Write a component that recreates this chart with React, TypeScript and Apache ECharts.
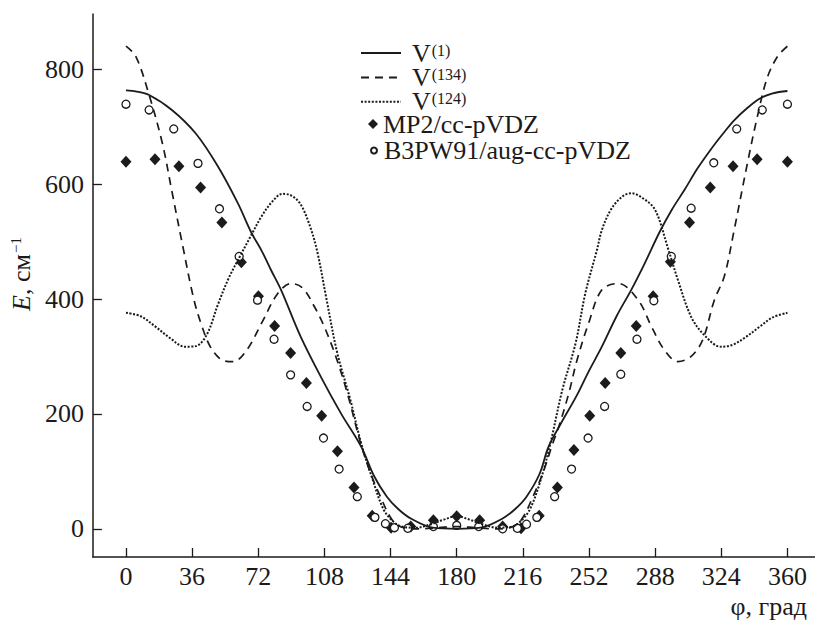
import React, { useEffect, useRef } from "react";
import * as echarts from "echarts";

const FONT = "Liberation Serif, Times New Roman, serif";
const INK = "#1c1a1a";

const xTicks = [0, 36, 72, 108, 144, 180, 216, 252, 288, 324, 360];
const yTicks = [0, 200, 400, 600, 800];

// V(1) – solid curve
const v1X = [0, 6, 12.6, 25, 38, 50, 61, 68, 74, 79, 84.5, 95, 106, 117, 128, 135, 142, 148, 155, 167, 180, 193, 205, 212, 218, 225, 230, 237, 245, 252, 259, 267, 275, 282, 290.5, 297, 304, 311, 318, 325, 331, 338, 345, 352, 360];
const v1Y = [763, 761, 755, 729, 688, 631, 566, 517, 483, 450, 415, 335, 265, 201, 143, 92, 56, 35, 18, 2, 0, 2, 18, 35, 56, 95, 143, 185, 230, 275, 317, 370, 416, 460, 517, 555, 590, 627, 659, 688, 711, 732, 749, 758, 762];

// V(134) – dashed curve
const v134X = [0, 5.4, 12.6, 19.8, 25.2, 30.6, 36.9, 41.4, 45.9, 52.2, 58.4, 65.7, 73.8, 82.7, 90, 96.2, 102.5, 107.9, 114.2, 120.5, 127.7, 133, 138.5, 144.8, 151, 160, 170, 180, 190, 200, 209, 215.2, 221.5, 227, 232.3, 235.6, 241, 245.5, 251.8, 259, 268, 278.8, 286, 293.1, 300.4, 307.6, 313.9, 320.2, 325.6, 331, 338.2, 343.6, 349, 354.6, 360];
const v134Y = [840, 822, 755, 671, 584, 497, 400, 352, 317, 294, 291, 311, 358, 410, 427, 419, 387, 352, 300, 236, 149, 98, 56, 16, 2, 0, 2, 4, 2, 0, 2, 16, 56, 98, 149, 178, 236, 294, 358, 416, 427, 398, 352, 311, 291, 300, 329, 398, 439, 520, 636, 717, 785, 822, 840];

// V(124) – dotted curve
const v124X = [0, 8, 16, 24, 32, 38, 44, 50, 56, 62, 68, 74, 80, 85, 90, 95, 100, 104, 109, 115, 122, 128, 134, 140, 145, 150, 158, 166, 173, 180, 187, 194, 202, 210, 215, 220, 226, 231, 237.5, 244.7, 250, 256.3, 259, 264, 270, 275, 281, 288, 295, 300.4, 307.6, 314.8, 323.8, 330, 337, 345, 352, 360];
const v124Y = [376, 370, 352, 332, 317, 318, 338, 390, 437, 474, 510, 545, 571, 583, 580, 565, 528, 484, 402, 306, 226, 149, 88, 35, 14, 4, 2, 8, 16, 22, 16, 8, 2, 4, 14, 35, 88, 149, 242, 323, 410, 485, 520, 556, 578, 584, 576, 555, 488, 433, 369, 337, 317, 320, 333, 352, 368, 376];

// MP2/cc-pVDZ – filled diamonds
const mp2X = [0, 15.8, 28.8, 40.6, 52.2, 62.8, 72.1, 80.9, 89.6, 98.2, 106.5, 115.1, 124.1, 134, 144.3, 155, 167.3, 180, 192.5, 205, 215, 224.9, 234.8, 243.8, 252.4, 260.8, 269.3, 277.7, 286.9, 296.3, 306.7, 318, 330.4, 343.5, 360];
const mp2Y = [639, 643, 631, 594, 533, 464, 405, 353, 306, 254, 197, 135, 72, 23, 2, 4, 15, 22, 15, 4, 1, 23, 72, 137, 197, 254, 306, 353, 405, 465, 533, 594, 631, 643, 639];

// B3PW91/aug-cc-pVDZ – open circles
const b3X = [0, 12.6, 26, 39.2, 50.9, 61.6, 71.6, 80.6, 89.6, 98.6, 107.5, 116, 125.9, 135.5, 141.2, 146.1, 153.4, 167.3, 180, 192, 205, 213, 218, 223.6, 233.3, 242.5, 251.5, 260.5, 269.3, 278.1, 287.3, 296.8, 307.6, 319.9, 332.4, 346.3, 360];
const b3Y = [739, 729, 696, 636, 557, 474, 398, 330, 268, 213, 158, 104, 56, 20, 9, 2, 1, 4, 6, 4, 0, 1, 8, 20, 56, 104, 158, 213, 269, 330, 397, 474, 558, 637, 696, 729, 739];

const zip = (xs: number[], ys: number[]) => xs.map((x, i) => [x, ys[i]]);

export default function App() {
  const ref = useRef<HTMLDivElement>(null);
  useEffect(() => {
    if (!ref.current) return;
    const chart = echarts.init(ref.current, null, { renderer: "svg" });
    const axisCommon = {
      type: "value" as const,
      splitLine: { show: false },
      axisLine: { show: true, onZero: false, lineStyle: { color: INK, width: 1.5 } },
    };
    const lineBase = (name: string, xs: number[], ys: number[], ls: any) => ({
      type: "line",
      name,
      data: zip(xs, ys),
      symbol: "none",
      showSymbol: false,
      smooth: 0.35,
      z: 4,
      silent: true,
      lineStyle: { color: INK, ...ls },
      itemStyle: { color: INK },
    });
    chart.setOption({
      animation: false,
      backgroundColor: "#ffffff",
      textStyle: { fontFamily: FONT, color: INK },
      grid: { left: 87, right: 0, top: 14, bottom: 65 },
      xAxis: {
        ...axisCommon,
        min: -18,
        max: 375,
        axisTick: { show: true, inside: true, length: 9, customValues: xTicks, lineStyle: { color: INK, width: 1.3 } },
        axisLabel: { customValues: xTicks, fontSize: 26, color: INK, margin: 6, fontFamily: FONT },
        name: "φ, град",
        nameLocation: "end",
        nameGap: -8,
        nameTextStyle: { fontSize: 26, color: INK, fontFamily: FONT, align: "right", verticalAlign: "top", padding: [36, 0, 0, 0] },
      },
      yAxis: {
        ...axisCommon,
        min: -49,
        max: 896,
        axisTick: { show: true, inside: true, length: 9, customValues: yTicks, lineStyle: { color: INK, width: 1.3 } },
        axisLabel: { customValues: yTicks, fontSize: 26, color: INK, margin: 9, fontFamily: FONT },
        name: "{i|E}{n|, см}{s|−1}",
        nameLocation: "middle",
        nameRotate: 90,
        nameGap: 49,
        nameTextStyle: {
          padding: [0, 0, 0, 23],
          rich: {
            i: { fontSize: 26, fontStyle: "italic", fontFamily: FONT, color: INK, lineHeight: 26 },
            n: { fontSize: 26, fontFamily: FONT, color: INK, lineHeight: 26 },
            s: { fontSize: 15, fontFamily: FONT, color: INK, lineHeight: 15, verticalAlign: "top", padding: [0, 0, 0, 1] },
          },
        },
      },
      legend: [
        {
          orient: "vertical",
          left: 355,
          top: 35,
          itemWidth: 40,
          itemHeight: 14,
          itemGap: -1.6,
          selectedMode: false,
          itemStyle: { color: "transparent", borderWidth: 0, opacity: 0 },
          data: ["V(1)", "V(134)", "V(124)"],
          formatter: (n: string) => `{v|V}{s|${n.slice(1)}}`,
          textStyle: {
            rich: {
              v: { fontSize: 26, lineHeight: 22, fontFamily: FONT, color: INK, padding: [0, 0, 0, 6] },
              s: { fontSize: 16, lineHeight: 16, fontFamily: FONT, color: INK, verticalAlign: "top", padding: [0, 0, 0, 1] },
            },
          },
        },
        {
          orient: "vertical",
          left: 363,
          top: 106,
          itemWidth: 10,
          itemHeight: 10,
          selectedMode: false,
          data: ["MP2/cc-pVDZ"],
          formatter: (n: string) => `{t|${n}}`,
          textStyle: { rich: { t: { fontSize: 26, lineHeight: 22, fontFamily: FONT, color: INK } } },
        },
        {
          orient: "vertical",
          left: 365,
          top: 132.5,
          itemWidth: 6,
          itemHeight: 6,
          selectedMode: false,
          data: ["B3PW91/aug-cc-pVDZ"],
          formatter: (n: string) => `{t|${n}}`,
          textStyle: { rich: { t: { fontSize: 26, lineHeight: 22, fontFamily: FONT, color: INK, padding: [0, 0, 0, 2] } } },
        },
      ],
      series: [
        {
          type: "scatter",
          name: "MP2/cc-pVDZ",
          data: zip(mp2X, mp2Y),
          symbol: "diamond",
          symbolSize: [11, 12],
          z: 2,
          silent: true,
          itemStyle: { color: INK, opacity: 1 },
        },
        {
          type: "scatter",
          name: "B3PW91/aug-cc-pVDZ",
          data: zip(b3X, b3Y),
          symbol: "circle",
          symbolSize: 8,
          z: 3,
          silent: true,
          itemStyle: { color: "#ffffff", borderColor: INK, borderWidth: 1.3, opacity: 1 },
        },
        lineBase("V(1)", v1X, v1Y, { width: 1.8, type: "solid" }),
        lineBase("V(134)", v134X, v134Y, { width: 1.7, type: [8, 6] }),
        lineBase("V(124)", v124X, v124Y, { width: 2, type: [2, 1.6] }),
      ],
    });
    return () => chart.dispose();
  }, []);
  return <div ref={ref} style={{ position: "fixed", left: 0, top: 0, width: 815, height: 622 }} />;
}
